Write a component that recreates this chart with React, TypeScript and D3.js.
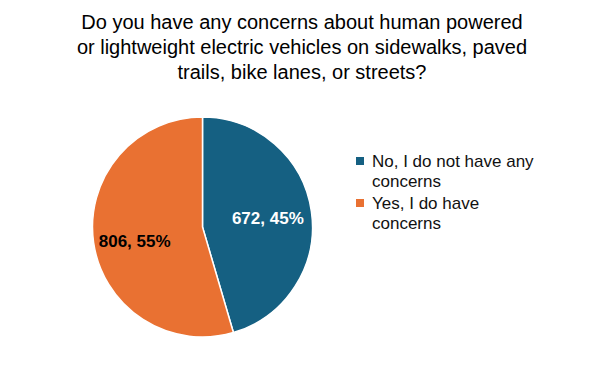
import React, { useRef, useEffect } from "react";
import * as d3 from "d3";

const titleLines = [
  "Do you have any concerns about human powered",
  "or lightweight electric vehicles on sidewalks, paved",
  "trails, bike lanes, or streets?",
];
const categories = ["No, I do not have any concerns", "Yes, I do have concerns"];
const counts = [672, 806];
const percents = ["45%", "55%"];
const legendLines = [["No, I do not have any", "concerns"], ["Yes, I do have", "concerns"]];
const colors = ["#156082", "#E97132"];
const labelColors = ["#ffffff", "#000000"];

export default function App() {
  const ref = useRef<SVGSVGElement>(null);

  useEffect(() => {
    const width = 600;
    const height = 371;
    const cx = 202.5;
    const cy = 227;
    const radius = 110;
    const font = "'Liberation Sans', Arial, sans-serif";

    const svg = d3.select(ref.current);
    svg.selectAll("*").remove();
    svg.attr("width", width).attr("height", height);

    svg.append("rect").attr("width", width).attr("height", height).attr("fill", "#fff");

    svg.append("g")
      .selectAll("text")
      .data(titleLines)
      .join("text")
      .attr("x", width / 2 + 2)
      .attr("y", (d, i) => 29 + i * 25)
      .attr("text-anchor", "middle")
      .attr("font-family", font)
      .attr("font-size", "20px")
      .attr("fill", "#000")
      .text(d => d);

    const data = categories.map((c, i) => ({ name: c, value: counts[i], pct: percents[i], i }));
    const pie = d3.pie<any>().sort(null).value(d => d.value);
    const arcs = pie(data);
    const arc = d3.arc<any>().innerRadius(0).outerRadius(radius);
    const labelArc = d3.arc<any>().innerRadius(radius * 0.6).outerRadius(radius * 0.6);

    const g = svg.append("g").attr("transform", `translate(${cx},${cy})`);

    g.selectAll("path")
      .data(arcs)
      .join("path")
      .attr("d", arc)
      .attr("fill", d => colors[d.data.i])
      .attr("stroke", "#fff")
      .attr("stroke-width", 1.5);

    g.selectAll("text")
      .data(arcs)
      .join("text")
      .attr("transform", d => {
        const [x, y] = labelArc.centroid(d);
        return d.data.i === 1 ? `translate(${x - 2.5},${y + 5})` : `translate(${x},${y})`;
      })
      .attr("text-anchor", "middle")
      .attr("dy", "0.35em")
      .attr("font-family", font)
      .attr("font-size", "17px")
      .attr("font-weight", "bold")
      .attr("fill", d => labelColors[d.data.i])
      .text(d => `${d.data.value}, ${d.data.pct}`);

    const legend = svg.append("g").attr("transform", "translate(356,0)");
    const items = legend.selectAll("g")
      .data(legendLines)
      .join("g")
      .attr("transform", (d, i) => `translate(0,${161 + i * 42})`);

    items.append("rect")
      .attr("x", 0)
      .attr("y", -4)
      .attr("width", 8)
      .attr("height", 8)
      .attr("fill", (d, i) => colors[i]);

    items.selectAll("text")
      .data(d => d)
      .join("text")
      .attr("x", 16)
      .attr("y", (d, j) => j * 20)
      .attr("dy", "0.35em")
      .attr("font-family", font)
      .attr("font-size", "17px")
      .attr("fill", "#111")
      .text(d => d);
  }, []);

  return <svg ref={ref} style={{ position: "absolute", left: 0, top: 0 }}></svg>;
}
